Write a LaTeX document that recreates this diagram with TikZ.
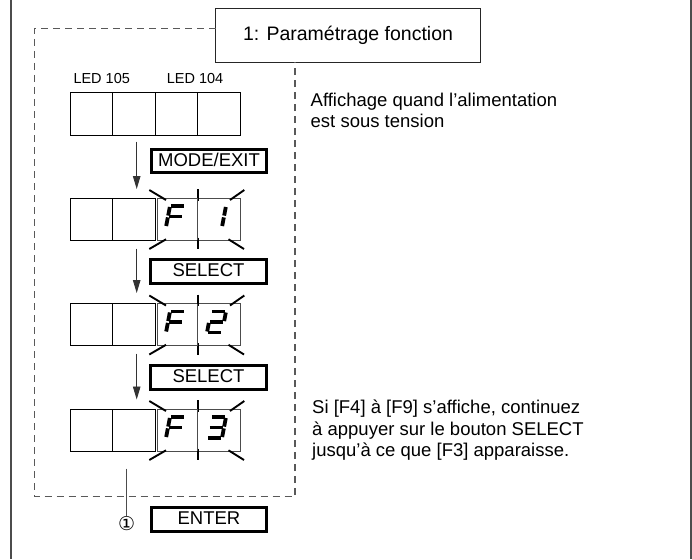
\documentclass[tikz,border=0pt]{standalone}
\usepackage{fontspec}
\setmainfont{Liberation Sans}
\newfontfamily\djv{DejaVu Sans}
\usetikzlibrary{arrows.meta}
% seven-segment helpers
\newcommand\sgp[2]{(\sgx+#1+0.19*#2,\sgy-#2)}
\newcommand\sgA{\draw[segline] \sgp{1}{21} -- \sgp{14}{21};}
\newcommand\sgB{\draw[segline] \sgp{15}{20} -- \sgp{15}{11.4};}
\newcommand\sgC{\draw[segline] \sgp{15}{9.6} -- \sgp{15}{1};}
\newcommand\sgD{\draw[segline] \sgp{1}{0} -- \sgp{14}{0};}
\newcommand\sgE{\draw[segline] \sgp{0}{9.6} -- \sgp{0}{1};}
\newcommand\sgF{\draw[segline] \sgp{0}{20} -- \sgp{0}{11.4};}
\newcommand\sgG{\draw[segline] \sgp{1}{10.5} -- \sgp{14}{10.5};}
\newcommand\flashmarks[1]{%
  \draw[flash] (149.3,#1-8) -- (166,#1+2);
  \draw[flash] (230,#1+2) -- (244.3,#1-8);
  \draw[flash] (197.7,#1-9) -- (197.7,#1+2.5);
  \draw[flash] (149.3,#1+51) -- (166,#1+41.3);
  \draw[flash] (228.5,#1+41.3) -- (244,#1+51);
  \draw[flash] (197.7,#1+39.5) -- (197.7,#1+51);
  \draw[divline] (197.7,#1) -- (197.7,#1+42);
}
\begin{document}
\begin{tikzpicture}[x=1pt,y=-1pt,
  frame/.style={line width=1.4pt,draw=black!70},
  dashbox/.style={line width=1.1pt,draw=black!65,dash pattern=on 7pt off 5pt},
  titlebox/.style={draw=black!85,line width=1.2pt,minimum width=264.8pt,minimum height=53.8pt,inner sep=0pt,font=\fontsize{19.5}{22}\selectfont},
  cell/.style={draw,line width=1pt,minimum width=42.45pt,minimum height=42pt,inner sep=0pt},
  disp/.style={draw=black!70,line width=0.6pt,minimum width=82.5pt,minimum height=42pt,inner sep=0pt},
  btn/.style={draw,line width=2.6pt,minimum width=115.5pt,minimum height=23.5pt,inner sep=0pt,font=\fontsize{18.5}{20}\selectfont,text height=13.2pt,text depth=3pt},
  lbl/.style={font=\fontsize{14.5}{16}\selectfont,inner sep=0pt,anchor=base west},
  txt/.style={font=\fontsize{18.5}{21}\selectfont,inner sep=0pt,anchor=base west},
  arr/.style={line width=0.9pt,draw=black!80,-{Triangle[length=13pt,width=7.5pt]}},
  conn/.style={line width=0.9pt,draw=black!70},
  segline/.style={line width=3.8pt,line cap=butt},
  flash/.style={line width=1.9pt},
  divline/.style={line width=0.6pt,draw=black!70},
]
\useasboundingbox (0,0) rectangle (692,559);
% outer frame (open top/bottom)
\draw[frame] (11,0) -- (11,559);
\draw[frame] (691,0) -- (691,559);
% title
\node[titlebox] (title) at (348,35.5) {1: Paramétrage fonction};
% dashed group box
\draw[dashbox] (215.6,28.3) -- (34.3,28.3) -- (34.3,496.7) -- (295,496.7) -- (295,62.4);
% LED labels
\node[lbl] (led105) at (73.3,83.5) {LED 105};
\node[lbl] (led104) at (166.7,83.5) {LED 104};
% row 1
\node[cell] (r1a) at (91.5,114) {};
\node[cell] (r1b) at (134,114) {};
\node[cell] (r1c) at (176.4,114) {};
\node[cell] (r1d) at (218.9,114) {};
% row 2
\node[cell] (r2a) at (91.5,219) {};
\node[cell] (r2b) at (134,219) {};
\node[disp] (r2d) at (198.75,219) {};
\flashmarks{198}
\def\sgx{166}\def\sgy{227}\sgA\sgE\sgF\sgG
\def\sgx{207}\sgB\sgC
% row 3
\node[cell] (r3a) at (91.5,324.5) {};
\node[cell] (r3b) at (134,324.5) {};
\node[disp] (r3d) at (198.75,324.5) {};
\flashmarks{303.5}
\def\sgx{166}\def\sgy{332.5}\sgA\sgE\sgF\sgG
\def\sgx{207}\sgA\sgB\sgG\sgE\sgD
% row 4
\node[cell] (r4a) at (91.5,430) {};
\node[cell] (r4b) at (134,430) {};
\node[disp] (r4d) at (198.75,430) {};
\flashmarks{409}
\def\sgx{166}\def\sgy{438}\sgA\sgE\sgF\sgG
\def\sgx{207}\sgA\sgB\sgG\sgC\sgD
% buttons
\node[btn] (mode) at (209,161) {MODE/EXIT};
\node[btn] (sel1) at (208.5,271.5) {SELECT};
\node[btn] (sel2) at (208.5,377.5) {SELECT};
\node[btn] (enter) at (209,519.5) {ENTER};
% arrows
\draw[arr] ([xshift=2.7pt,yshift=-6pt]r1b.south) -- ([xshift=2.7pt,yshift=8.5pt]r2b.north);
\draw[arr] ([xshift=2.7pt,yshift=-8pt]r2b.south) -- ([xshift=2.7pt,yshift=10pt]r3b.north);
\draw[arr] ([xshift=2.7pt,yshift=-7.5pt]r3b.south) -- ([xshift=2.7pt,yshift=9pt]r4b.north);
% step marker
\node[font=\djv\fontsize{19}{19}\selectfont,inner sep=0pt] (c1) at (126.7,523.3) {①};
\draw[conn] ([xshift=-7.3pt,yshift=-17pt]r4b.south) -- (c1.north);
% notes
\node[txt] (n1a) at (310.5,106.7) {Affichage quand l’alimentation};
\node[txt] (n1b) at (310.5,127.7) {est sous tension};
\node[txt] (n2a) at (312,413.3) {Si [F4] à [F9] s’affiche, continuez};
\node[txt] (n2b) at (312,435) {à appuyer sur le bouton SELECT};
\node[txt] (n2c) at (312,456.7) {jusqu’à ce que [F3] apparaisse.};
\end{tikzpicture}
\end{document}
